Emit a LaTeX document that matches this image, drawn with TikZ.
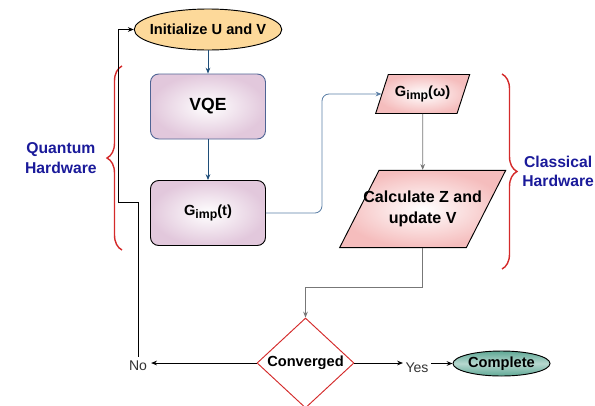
\documentclass[tikz,border=0pt]{standalone}
\usepackage{fontspec}
\setmainfont{Liberation Sans}
\usepackage{xcolor}
\usetikzlibrary{arrows.meta, positioning, shapes.geometric, decorations.pathreplacing, calc}

\definecolor{initfill}{HTML}{FDD99A}
\definecolor{boxpink}{HTML}{E2C8DC}
\definecolor{boxedge}{HTML}{4F6494}
\definecolor{parapink}{HTML}{F5BDBD}
\definecolor{donegreen}{HTML}{5FA895}
\definecolor{bracered}{HTML}{D42A2A}
\definecolor{hwblue}{HTML}{1A1A9A}
\definecolor{flowblue}{HTML}{1F4E79}
\definecolor{linkblue}{HTML}{5B7FA6}
\definecolor{linegray}{HTML}{777777}

\newcommand{\imp}{\raisebox{-0.5ex}{\fontsize{10.5}{12}\selectfont imp}}

\begin{document}
\begin{tikzpicture}[
            font=\fontsize{12.5}{15}\selectfont\bfseries,
            terminal/.style={ellipse, draw=black, thick, inner sep=0pt},
            process/.style={rectangle, rounded corners=7pt, thick, shade,
                inner color=white, outer color=boxpink,
                minimum width=3.45cm, minimum height=1.95cm},
            datain/.style={trapezium, draw=black, thick,
                shade, inner color=white, outer color=parapink},
            decision/.style={diamond, draw=bracered, thick, fill=white, inner sep=0pt,
                aspect=1.08, minimum width=2.91cm, minimum height=2.7cm},
            answer/.style={font=\fontsize{12}{14}\selectfont, text=black!80},
            hwlabel/.style={font=\fontsize{13.4}{16.6}\selectfont\bfseries,
                text=hwblue, align=center, inner sep=0pt},
            brace/.style={decorate, decoration={brace, amplitude=0.45cm},
                draw=bracered, line width=1.2pt},
            flow/.style={-{Stealth[length=5pt, width=4pt]}, draw=flowblue, line width=0.7pt},
            link/.style={-{Stealth[length=5pt, width=4pt]}, draw=linkblue, line width=0.7pt,
                rounded corners=6pt},
            line/.style={-{Stealth[length=5pt, width=4pt]}, draw=linegray, line width=0.7pt},
            fb/.style={-{Stealth[length=5pt, width=4pt]}, draw=black, line width=0.7pt}
        ]

        \useasboundingbox (0,0) rectangle (17.85,-12.15);

        % Nodes (manual layout to match figure)
        \node[terminal, fill=initfill, inner xsep=-0.18cm, minimum height=1.23cm]
            (init) at (6.24, -0.885) {Initialize U and V};
        \node[process, draw=boxedge, font=\fontsize{15}{18}\selectfont\bfseries]
            (vqe) at (6.24, -3.195) {VQE};
        \node[process, draw=black] (gt) at (6.24, -6.39) {G\imp(t)};

        \node[datain, trapezium left angle=72, trapezium right angle=108,
            inner xsep=0.2cm, inner ysep=0.33cm]
            (gw) at (12.68, -2.82) {G\imp(ω)};
        \node[datain, trapezium left angle=63, trapezium right angle=117,
            inner xsep=-0.47cm, inner ysep=0.62cm, align=center,
            font=\fontsize{13.7}{17.9}\selectfont\bfseries]
            (calc) at (12.68, -6.27) {Calculate Z and\\update V};

        \node[decision] (conv) at (9.165, -10.89) {Converged};
        \node[answer] (no) at (4.14, -10.98) {No};
        \node[answer, inner sep=2pt] (yes) at (12.51, -11.04) {Yes};
        \node[terminal, shade, top color=donegreen, bottom color=donegreen,
            middle color=donegreen!45, minimum width=2.91cm, minimum height=0.75cm]
            (done) at (15.045, -10.905) {Complete};

        \coordinate (fbA) at (4.14, -6.06);
        \coordinate (fbB) at (3.54, -6.06);

        % Braces
        \draw[brace] (3.66, -7.5) -- (3.66, -1.98)
            node[hwlabel, midway, left=0.74cm] (qhw) {Quantum\\Hardware};
        \draw[brace] (15.06, -2.22) -- (15.06, -8.07)
            node[hwlabel, midway, right=0.59cm] (chw) {Classical\\Hardware};

        % Edges
        \draw[flow] (init) -- (vqe);
        \draw[flow] (vqe) -- (gt);
        \draw[link] (gt.east) -- ++(1.68, 0) |- (gw.west);
        \draw[line] (gw) -- (calc);
        \draw[line] (calc.center |- calc.south) -- ++(0, -1.17) -| (conv.north);

        \draw[fb] (conv.west) -- (conv.west -| no.east);
        \draw[fb] (no.north) -- (fbA) -- (fbB) |- (init.west);
        \draw[fb] (conv.east) -- (conv.east -| yes.west);
        \draw[fb] (yes.east |- done.west) -- (done.west);

    \end{tikzpicture}
\end{document}
